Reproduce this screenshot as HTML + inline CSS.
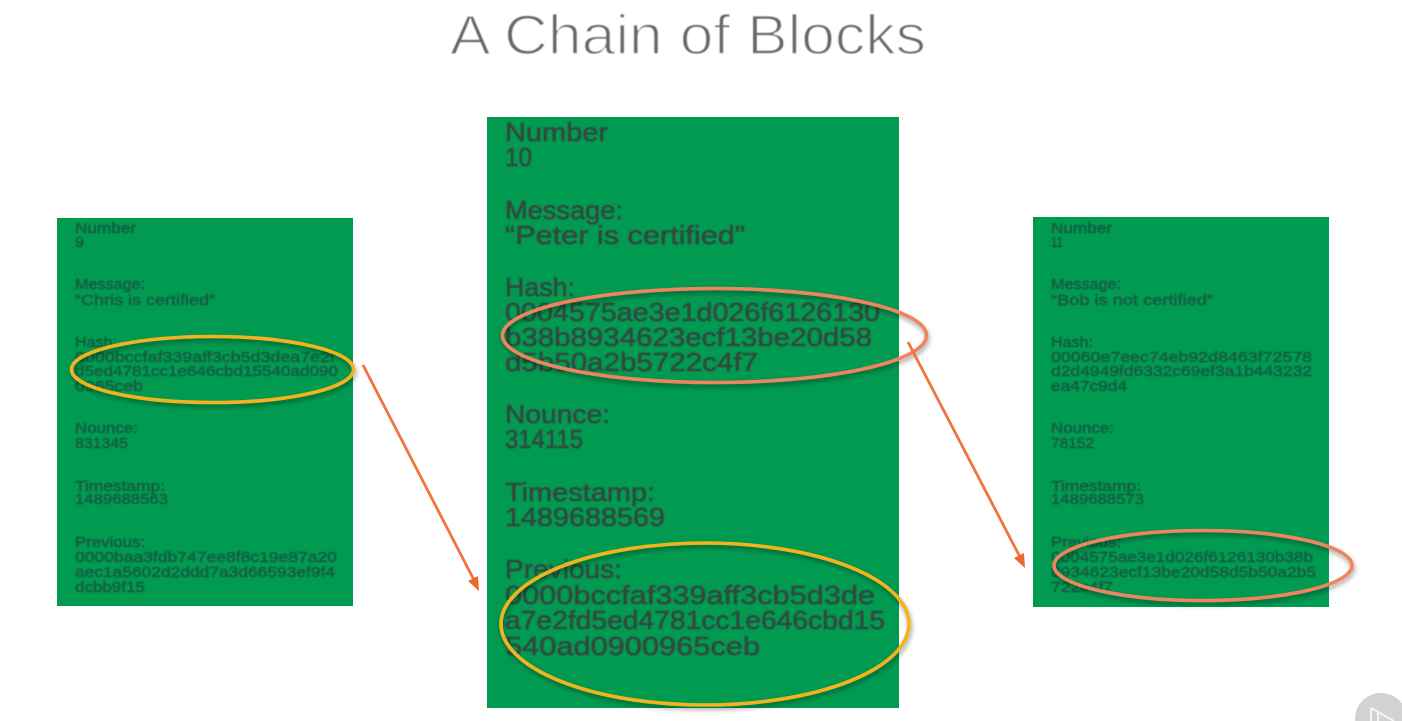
<!DOCTYPE html>
<html><head><meta charset="utf-8"><title>A Chain of Blocks</title>
<style>
html,body{margin:0;padding:0;background:#fff;width:1402px;height:721px;overflow:hidden}
svg{display:block}
text{font-family:"Liberation Sans",sans-serif}
.s text{font-size:15px;fill:#145c40;stroke:#145c40;stroke-width:.45}
.c text{font-size:26px;fill:#33483f;stroke:#33483f;stroke-width:.55}
</style></head><body>
<svg width="1402" height="721" viewBox="0 0 1402 721" xmlns="http://www.w3.org/2000/svg">
<defs>
<filter id="b1" x="-5%" y="-5%" width="110%" height="110%"><feGaussianBlur stdDeviation="0.55"/></filter>
<filter id="b2" x="-5%" y="-5%" width="110%" height="110%"><feGaussianBlur stdDeviation="0.45"/></filter>
<filter id="sh" x="-10%" y="-20%" width="120%" height="140%"><feDropShadow dx="1" dy="3" stdDeviation="2.5" flood-color="#000" flood-opacity="0.38"/></filter>
</defs>
<text x="450" y="54" font-size="56" fill="#66686a" stroke="#fff" stroke-width="1.5" textLength="476" lengthAdjust="spacingAndGlyphs" filter="url(#b2)">A Chain of Blocks</text>

<rect x="57" y="218" width="296" height="388" fill="#019a51"/>
<rect x="487" y="117" width="412" height="591" fill="#019a51"/>
<rect x="1033" y="217" width="296" height="390" fill="#019a51"/>

<g class="s" filter="url(#b1)">
<text x="75" y="233" textLength="61" lengthAdjust="spacingAndGlyphs">Number</text>
<text x="75" y="247" textLength="9" lengthAdjust="spacingAndGlyphs">9</text>
<text x="75" y="289" textLength="70" lengthAdjust="spacingAndGlyphs">Message:</text>
<text x="75" y="305" textLength="140" lengthAdjust="spacingAndGlyphs">“Chris is certified”</text>
<text x="75" y="347" textLength="42" lengthAdjust="spacingAndGlyphs">Hash:</text>
<text x="75" y="362" textLength="260" lengthAdjust="spacingAndGlyphs">0000bccfaf339aff3cb5d3dea7e2f</text>
<text x="75" y="376" textLength="263" lengthAdjust="spacingAndGlyphs">d5ed4781cc1e646cbd15540ad090</text>
<text x="75" y="391" textLength="68" lengthAdjust="spacingAndGlyphs">0965ceb</text>
<text x="75" y="433" textLength="63" lengthAdjust="spacingAndGlyphs">Nounce:</text>
<text x="75" y="448" textLength="53" lengthAdjust="spacingAndGlyphs">831345</text>
<text x="75" y="491" textLength="90" lengthAdjust="spacingAndGlyphs">Timestamp:</text>
<text x="75" y="504" textLength="93" lengthAdjust="spacingAndGlyphs">1489688563</text>
<text x="75" y="547" textLength="70" lengthAdjust="spacingAndGlyphs">Previous:</text>
<text x="75" y="562" textLength="262" lengthAdjust="spacingAndGlyphs">0000baa3fdb747ee8f8c19e87a20</text>
<text x="75" y="577" textLength="260" lengthAdjust="spacingAndGlyphs">aec1a5602d2ddd7a3d66593ef9f4</text>
<text x="75" y="592" textLength="70" lengthAdjust="spacingAndGlyphs">dcbb9f15</text>
</g>

<g class="c" filter="url(#b2)">
<text x="505" y="141" textLength="103" lengthAdjust="spacingAndGlyphs">Number</text>
<text x="505" y="166" textLength="27" lengthAdjust="spacingAndGlyphs">10</text>
<text x="505" y="219" textLength="118" lengthAdjust="spacingAndGlyphs">Message:</text>
<text x="505" y="244" textLength="240" lengthAdjust="spacingAndGlyphs">“Peter is certified”</text>
<text x="505" y="296" textLength="70" lengthAdjust="spacingAndGlyphs">Hash:</text>
<text x="505" y="321" textLength="375" lengthAdjust="spacingAndGlyphs">0004575ae3e1d026f6126130</text>
<text x="505" y="346" textLength="367" lengthAdjust="spacingAndGlyphs">b38b8934623ecf13be20d58</text>
<text x="505" y="371" textLength="253" lengthAdjust="spacingAndGlyphs">d5b50a2b5722c4f7</text>
<text x="505" y="423" textLength="105" lengthAdjust="spacingAndGlyphs">Nounce:</text>
<text x="505" y="448" textLength="78" lengthAdjust="spacingAndGlyphs">314115</text>
<text x="505" y="501" textLength="150" lengthAdjust="spacingAndGlyphs">Timestamp:</text>
<text x="505" y="526" textLength="160" lengthAdjust="spacingAndGlyphs">1489688569</text>
<text x="505" y="578" textLength="117" lengthAdjust="spacingAndGlyphs">Previous:</text>
<text x="505" y="604" textLength="370" lengthAdjust="spacingAndGlyphs">0000bccfaf339aff3cb5d3de</text>
<text x="505" y="629" textLength="380" lengthAdjust="spacingAndGlyphs">a7e2fd5ed4781cc1e646cbd15</text>
<text x="505" y="655" textLength="255" lengthAdjust="spacingAndGlyphs">540ad0900965ceb</text>
</g>

<g class="s" filter="url(#b1)">
<text x="1051" y="233" textLength="61" lengthAdjust="spacingAndGlyphs">Number</text>
<text x="1051" y="247" textLength="12" lengthAdjust="spacingAndGlyphs">11</text>
<text x="1051" y="289" textLength="70" lengthAdjust="spacingAndGlyphs">Message:</text>
<text x="1051" y="305" textLength="162" lengthAdjust="spacingAndGlyphs">“Bob is not certified”</text>
<text x="1051" y="347" textLength="42" lengthAdjust="spacingAndGlyphs">Hash:</text>
<text x="1051" y="362" textLength="261" lengthAdjust="spacingAndGlyphs">00060e7eec74eb92d8463f72578</text>
<text x="1051" y="376" textLength="261" lengthAdjust="spacingAndGlyphs">d2d4949fd6332c69ef3a1b443232</text>
<text x="1051" y="391" textLength="76" lengthAdjust="spacingAndGlyphs">ea47c9d4</text>
<text x="1051" y="433" textLength="63" lengthAdjust="spacingAndGlyphs">Nounce:</text>
<text x="1051" y="448" textLength="43" lengthAdjust="spacingAndGlyphs">78152</text>
<text x="1051" y="491" textLength="90" lengthAdjust="spacingAndGlyphs">Timestamp:</text>
<text x="1051" y="504" textLength="93" lengthAdjust="spacingAndGlyphs">1489688573</text>
<text x="1051" y="547" textLength="70" lengthAdjust="spacingAndGlyphs">Previous:</text>
<text x="1051" y="562" textLength="262" lengthAdjust="spacingAndGlyphs">0004575ae3e1d026f6126130b38b</text>
<text x="1051" y="577" textLength="265" lengthAdjust="spacingAndGlyphs">8934623ecf13be20d58d5b50a2b5</text>
<text x="1051" y="592" textLength="62" lengthAdjust="spacingAndGlyphs">722c4f7</text>
</g>

<ellipse cx="212.5" cy="369.5" rx="141" ry="33" fill="none" stroke="#f1b41c" stroke-width="3.6" filter="url(#sh)"/>
<ellipse cx="714.5" cy="335.5" rx="212" ry="47" fill="none" stroke="#f0845f" stroke-width="3.6" filter="url(#sh)"/>
<ellipse cx="705" cy="624" rx="204" ry="81" fill="none" stroke="#f1b41c" stroke-width="3.6" filter="url(#sh)"/>
<ellipse cx="1203" cy="565.5" rx="149" ry="35" fill="none" stroke="#f0845f" stroke-width="3.6" filter="url(#sh)"/>

<line x1="363" y1="365" x2="474" y2="580" stroke="#f0743f" stroke-width="2.8"/>
<polygon points="479,591 468,581 478,576" fill="#f0662c"/>
<line x1="908" y1="342" x2="1020" y2="557" stroke="#f0743f" stroke-width="2.8"/>
<polygon points="1025,568 1014,558 1024,553" fill="#f0662c"/>

<circle cx="1381" cy="719" r="26" fill="#d2d2d4"/>
<path d="M1371 708 L1371 721 M1371 708 L1394 721 M1378 712 L1378 721" fill="none" stroke="#f4f4f5" stroke-width="2"/>
</svg>
</body></html>
